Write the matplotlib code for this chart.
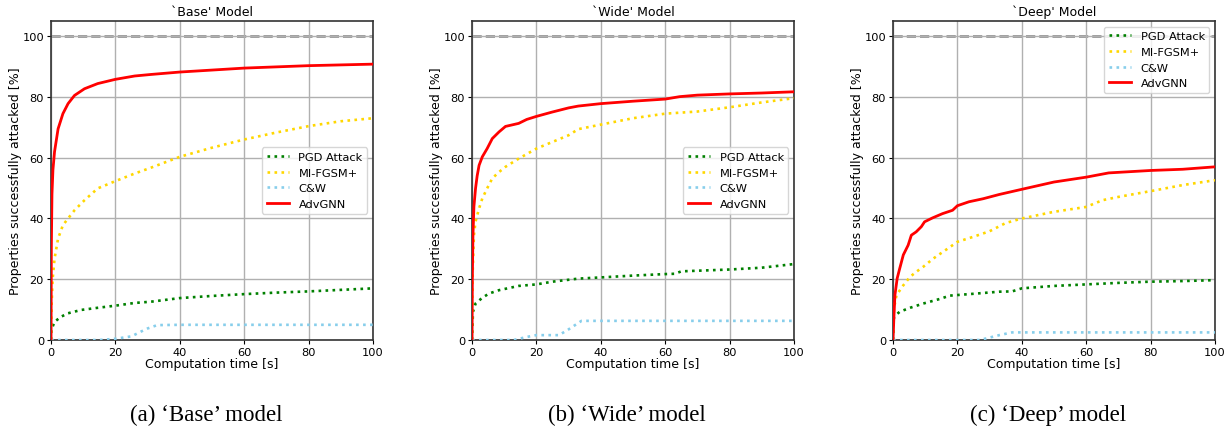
import matplotlib
matplotlib.use("Agg")
import matplotlib.pyplot as plt

# ---------------- data ----------------
models = ["Base", "Wide", "Deep"]
captions = ["(a) \u2018Base\u2019 model", "(b) \u2018Wide\u2019 model", "(c) \u2018Deep\u2019 model"]
methods = ["PGD Attack", "MI-FGSM+", "C&W", "AdvGNN"]

# Base model
base_pgd_t = [0, 0.1, 1.1, 3.2, 5.3, 9.4, 14.5, 20, 26, 31, 40, 50, 60, 70, 80, 90, 100]
base_pgd_y = [0, 3.3, 6, 7.7, 8.8, 9.9, 10.6, 11.3, 12.2, 12.6, 13.8, 14.5, 15.1, 15.6, 16, 16.5, 17]
base_mi_t = [0, 0.2, 0.5, 1.1, 2.2, 3.7, 5.3, 7.3, 10.4, 14.5, 20, 26, 31, 40, 50, 60, 70, 80, 90, 100]
base_mi_y = [0, 12, 20, 26.8, 33.4, 37.8, 40, 42.7, 46, 49.9, 52.3, 54.8, 56.7, 60.3, 63.3, 66, 68.3, 70.4, 72, 73]
base_cw_t = [0, 15, 20, 25, 28, 30, 33, 40, 100]
base_cw_y = [0, 0, 0.4, 1.2, 2.8, 3.8, 4.9, 5, 5]
base_adv_t = [0, 0.1, 0.3, 0.6, 1.1, 2.2, 3.7, 5.3, 7.3, 10.4, 14.5, 20, 26, 31, 40, 60, 80, 100]
base_adv_y = [0, 30, 48, 56, 62, 69.5, 74.5, 77.8, 80.5, 82.7, 84.4, 85.8, 86.9, 87.4, 88.2, 89.5, 90.3, 90.8]

# Wide model
wide_pgd_t = [0, 0.3, 1.1, 3.2, 5.3, 8.4, 14.5, 20, 25, 33, 40, 50, 60, 63, 65, 70, 80, 90, 100]
wide_pgd_y = [0, 9.3, 12, 13.9, 15.3, 16.4, 17.8, 18.3, 19.2, 20.2, 20.6, 21.2, 21.7, 21.8, 22.6, 22.8, 23.2, 23.8, 25]
wide_mi_t = [0, 0.2, 0.6, 1.1, 2.2, 3.2, 4.7, 6.3, 8.4, 10.4, 14.5, 20, 25, 30, 33, 40, 50, 60, 70, 80, 90, 100]
wide_mi_y = [0, 22, 34.5, 39, 43.3, 46.6, 49.9, 53.2, 55.3, 57, 59.7, 63, 65.2, 67.4, 69.4, 70.9, 73, 74.5, 75.2, 76.6, 78.2, 79.6]
wide_cw_t = [0, 13, 17, 20, 27, 30, 34, 100]
wide_cw_y = [0, 0, 1.0, 1.6, 1.6, 3.5, 6.3, 6.3]
wide_adv_t = [0, 0.1, 0.3, 0.6, 1.1, 1.6, 2.2, 3.2, 4.7, 6.3, 8.4, 10.4, 14.5, 17, 20, 24.8, 30, 33, 40, 50, 60, 64.5, 70, 80, 90, 100]
wide_adv_y = [0, 20, 34.5, 44, 49.9, 54, 57.5, 60.3, 63, 66.3, 68.5, 70.3, 71.3, 72.6, 73.6, 75, 76.4, 77, 77.8, 78.6, 79.3, 80.1, 80.6, 81, 81.3, 81.7]

# Deep model
deep_pgd_t = [0, 0.3, 2.1, 5.3, 9.4, 14.5, 17.6, 20, 26, 33, 37, 40, 50, 60, 70, 80, 90, 100]
deep_pgd_y = [0, 7.7, 9.3, 10.6, 12, 13.5, 14.6, 14.8, 15.3, 15.9, 16, 17, 17.8, 18.3, 18.8, 19.2, 19.4, 19.7]
deep_mi_t = [0, 0.3, 1.1, 3.2, 5.3, 7.3, 9.4, 12.5, 15.5, 20, 25, 30, 35, 40, 50, 60, 65, 70, 80, 90, 100]
deep_mi_y = [0, 10.4, 14.8, 18, 20.8, 22.5, 24.1, 26.8, 29, 32.3, 34, 35.8, 38.5, 40, 42.2, 43.8, 46, 47.1, 49, 51, 52.6]
deep_cw_t = [0, 27, 30, 33, 37, 100]
deep_cw_y = [0, 0, 0.8, 1.6, 2.5, 2.5]
deep_adv_t = [0, 0.3, 0.6, 1.3, 2.1, 3.2, 4.7, 5.7, 7.2, 8.8, 9.8, 12.3, 15.4, 18.5, 20, 23.6, 28, 33, 40, 50, 60, 67, 80, 90, 100]
deep_adv_y = [0, 8, 14.8, 20.3, 23.6, 28, 31.2, 34.5, 35.6, 37.3, 38.9, 40.2, 41.6, 42.7, 44.2, 45.5, 46.5, 47.9, 49.6, 52, 53.6, 55, 55.8, 56.2, 57]

xticks = [0, 20, 40, 60, 80, 100]
yticks = [0, 20, 40, 60, 80, 100]

series = [
    [(base_pgd_t, base_pgd_y), (base_mi_t, base_mi_y), (base_cw_t, base_cw_y), (base_adv_t, base_adv_y)],
    [(wide_pgd_t, wide_pgd_y), (wide_mi_t, wide_mi_y), (wide_cw_t, wide_cw_y), (wide_adv_t, wide_adv_y)],
    [(deep_pgd_t, deep_pgd_y), (deep_mi_t, deep_mi_y), (deep_cw_t, deep_cw_y), (deep_adv_t, deep_adv_y)],
]

# ---------------- style ----------------
colors = ["green", "gold", "skyblue", "red"]
styles = [":", ":", ":", "-"]
widths = [1.9, 1.9, 1.9, 2.0]
legend_locs = ["center right", "center right", "upper right"]
lefts = [51 / 1231, 472 / 1231, 893 / 1231]
caption_x = [206 / 1231, 627 / 1231, 1048 / 1231]

plt.rcParams["font.family"] = ["DejaVu Sans"]
fig = plt.figure(figsize=(12.31, 4.31), dpi=100)

for i, model in enumerate(models):
    ax = fig.add_axes([lefts[i], 90 / 431, 322 / 1231, 319 / 431])
    ax.grid(True, color="#b0b0b0", linewidth=1.0, zorder=0)
    ax.axhline(100, color="gray", linestyle="--", linewidth=1.8, zorder=1)
    for j, (t, y) in enumerate(series[i]):
        ax.plot(t, y, linestyle=styles[j], color=colors[j], linewidth=widths[j],
                label=methods[j], zorder=3)
    ax.set_xlim(0, 100)
    ax.set_ylim(0, 105)
    ax.set_xticks(xticks)
    ax.set_yticks(yticks)
    ax.tick_params(labelsize=8.2, length=3, pad=2)
    ax.set_xlabel("Computation time [s]", fontsize=9, labelpad=0)
    ax.set_ylabel("Properties successfully attacked [%]", fontsize=9, labelpad=0)
    ax.set_title("`%s' Model" % model, fontsize=9, pad=4)
    for sp in ax.spines.values():
        sp.set_color("#333333")
        sp.set_linewidth(1.2)
    ax.legend(loc=legend_locs[i], fontsize=8.2, framealpha=0.8)
    fig.text(caption_x[i], 16 / 431, captions[i], ha="center", va="center",
             fontsize=16.5, family=["Liberation Serif", "DejaVu Serif"])

fig.savefig("out.png", dpi=100)
